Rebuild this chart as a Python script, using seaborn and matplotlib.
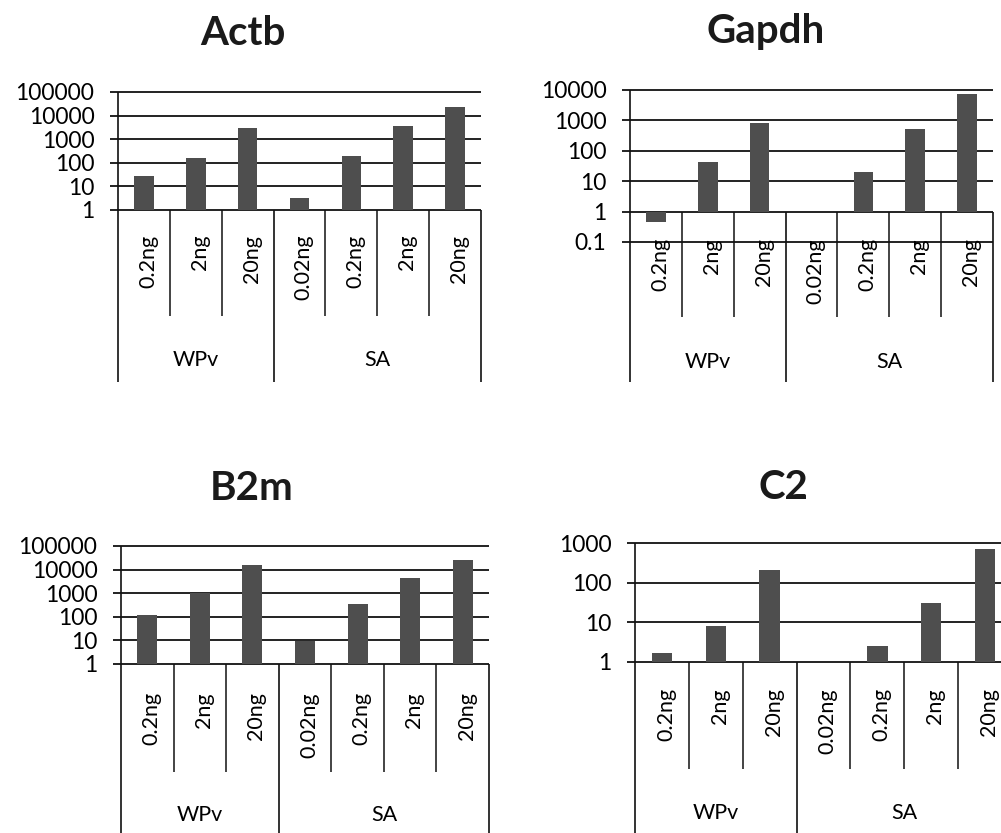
import numpy as np
import pandas as pd
import seaborn as sns
import matplotlib.pyplot as plt

sns.set_style('white')
plt.rcParams['font.family'] = ['Lato', 'DejaVu Sans']

# %% data
categories = ['0.2ng', '2ng', '20ng', '0.02ng', '0.2ng', '2ng', '20ng']
groups = ['WPv', 'SA']
group_sizes = [3, 4]

actb = [28, 162, 2900, 3.2, 200, 3800, 23000]
gapdh = [0.47, 42, 810, np.nan, 19.5, 530, 7400]
b2m = [117, 1000, 16000, 9.4, 350, 4500, 25000]
c2 = [1.7, 8.2, 210, np.nan, 2.6, 30, 710]

actb_ticks = ['1', '10', '100', '1000', '10000', '100000']
gapdh_ticks = ['0.1', '1', '10', '100', '1000', '10000']
b2m_ticks = ['1', '10', '100', '1000', '10000', '100000']
c2_ticks = ['1', '10', '100', '1000']

FIG_W, FIG_H = 1001, 833
BAR_COLOR = '#4e4e4e'
LINE_COLOR = '#111111'

# panel layout in pixels
panels = [
    dict(title='Actb', values=actb, ticks=actb_ticks, lo=0, hi=5,
         left=118, right=481, top=92, bottom=210,
         minor_end=316, group_end=382, lab_top=235, grp_y=360, title_xy=(243, 45)),
    dict(title='Gapdh', values=gapdh, ticks=gapdh_ticks, lo=-1, hi=4,
         left=630, right=993, top=90, bottom=242,
         minor_end=317, group_end=382, lab_top=238, grp_y=362, title_xy=(766, 43)),
    dict(title='B2m', values=b2m, ticks=b2m_ticks, lo=0, hi=5,
         left=121, right=489, top=546, bottom=664,
         minor_end=772, group_end=900, lab_top=692, grp_y=815, title_xy=(252, 500)),
    dict(title='C2', values=c2, ticks=c2_ticks, lo=0, hi=3,
         left=635, right=1012, top=543, bottom=662,
         minor_end=769, group_end=900, lab_top=688, grp_y=813, title_xy=(783, 499)),
]

keys = [f'{i}_{c}' for i, c in enumerate(categories)]

fig = plt.figure(figsize=(FIG_W / 100, FIG_H / 100), dpi=100)

for p in panels:
    w_px = p['right'] - p['left']
    h_px = p['bottom'] - p['top']
    ax = fig.add_axes([p['left'] / FIG_W, 1 - p['bottom'] / FIG_H, w_px / FIG_W, h_px / FIG_H])
    dpp_y = (p['hi'] - p['lo']) / h_px
    dpp_x = 7 / w_px
    axis_px = p['bottom'] - (0 - p['lo']) / dpp_y

    df = pd.DataFrame({'key': keys, 'val': p['values']}).dropna()
    df['logval'] = np.log10(df['val'])
    sns.barplot(data=df, x='key', y='logval', order=keys, color=BAR_COLOR,
                saturation=1, width=0.38, errorbar=None, linewidth=0, ax=ax, zorder=3)

    ax.set_xlim(-0.5, 6.5)
    ax.set_ylim(p['lo'], p['hi'])
    for s in ax.spines.values():
        s.set_visible(False)
    ax.set_xlabel('')
    ax.set_ylabel('')
    ax.set_xticks([])

    # gridlines with little tick stubs on the left
    levels = np.arange(p['lo'], p['hi'] + 1)
    ax.hlines(levels, -0.5 - 8 * dpp_x, 6.5, color=LINE_COLOR, lw=1.3, clip_on=False, zorder=2)
    ax.set_yticks(levels)
    ax.set_yticklabels(p['ticks'])
    ax.tick_params(axis='y', length=0, pad=17, labelsize=16.5, labelcolor='black')

    # left spine down to group line bottom
    y_grp = -(p['group_end'] - axis_px) * dpp_y
    y_min = -(p['minor_end'] - axis_px) * dpp_y
    ax.vlines(-0.5, y_grp, p['hi'], color=LINE_COLOR, lw=1.2, clip_on=False)
    # category dividers
    ax.vlines([2.5, 6.5], y_grp, 0, color=LINE_COLOR, lw=1.2, clip_on=False)
    ax.vlines([0.5, 1.5, 3.5, 4.5, 5.5], y_min, 0, color=LINE_COLOR, lw=1.1, clip_on=False)

    # category labels
    y_lab = -(p['lab_top'] - axis_px) * dpp_y
    for i, c in enumerate(categories):
        ax.text(i + 4 * dpp_x, y_lab, c, rotation=90, ha='center', va='top',
                fontsize=15.5, color='black')
    # group labels
    y_g = -(p['grp_y'] - axis_px) * dpp_y
    start = 0
    for g, n in zip(groups, group_sizes):
        ax.text(start + (n - 1) / 2, y_g, g, ha='center', va='center',
                fontsize=15.5, color='black')
        start += n

    fig.text(p['title_xy'][0] / FIG_W, 1 - p['title_xy'][1] / FIG_H, p['title'],
             ha='center', va='baseline', fontsize=29, fontweight='bold', color='#1a1a1a')

fig.savefig('out.png', dpi=100)
